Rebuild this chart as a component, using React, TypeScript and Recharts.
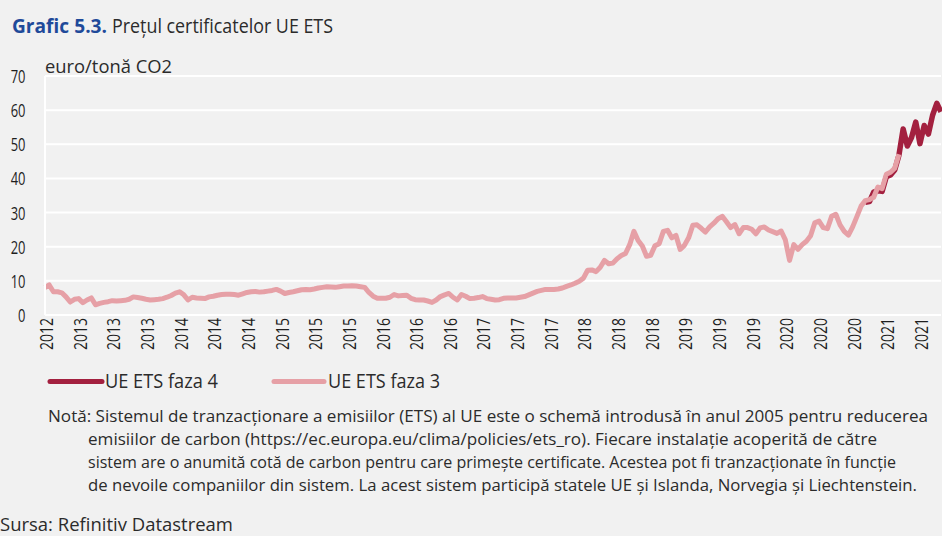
import React from 'react';
import { LineChart, Line, XAxis, YAxis, CartesianGrid } from 'recharts';

// x axis: one point every half month, a label every 8 points
const TICK_LABELS = [
  '2012', '2013', '2013', '2013', '2014', '2014', '2014', '2015', '2015', '2015',
  '2016', '2016', '2016', '2017', '2017', '2017', '2018', '2018', '2018',
  '2019', '2019', '2019', '2020', '2020', '2020', '2021', '2021',
];
const TICK_STEP = 8;
const Y_TICKS = [0, 10, 20, 30, 40, 50, 60, 70];

// UE ETS faza 3 (euro/tonă CO2)
const PHASE3 = [
  8.0, 8.8, 6.8, 6.8, 6.5, 5.3, 3.8, 4.6,
  4.8, 3.6, 4.4, 5.0, 3.0, 3.4, 3.7, 3.9,
  4.2, 4.1, 4.2, 4.3, 4.6, 5.3, 5.1, 4.9,
  4.6, 4.4, 4.5, 4.6, 4.8, 5.2, 5.7, 6.4,
  6.8, 5.9, 4.4, 5.2, 5.0, 4.9, 4.8, 5.3,
  5.5, 5.8, 6.0, 6.1, 6.1, 6.0, 5.8, 6.2,
  6.6, 6.8, 6.9, 6.7, 6.8, 7.0, 7.2, 7.5,
  7.0, 6.3, 6.6, 6.8, 7.1, 7.4, 7.5, 7.4,
  7.6, 7.9, 8.1, 8.3, 8.2, 8.1, 8.3, 8.5,
  8.5, 8.6, 8.5, 8.3, 8.1, 6.6, 5.5, 4.9,
  4.9, 4.9, 5.2, 6.0, 5.6, 5.7, 5.8, 4.9,
  4.5, 4.4, 4.4, 4.1, 3.7, 4.4, 5.4, 5.9,
  6.3, 5.2, 4.4, 6.0, 5.5, 4.8, 4.9, 5.1,
  5.4, 4.8, 4.6, 4.4, 4.5, 4.9, 5.0, 5.0,
  5.0, 5.2, 5.4, 5.9, 6.4, 6.9, 7.2, 7.5,
  7.5, 7.5, 7.6, 7.9, 8.4, 8.8, 9.3, 9.9,
  10.8, 13.1, 13.2, 12.7, 14.0, 16.0, 15.0, 15.2,
  16.5, 17.4, 18.0, 20.6, 24.5, 21.8, 20.2, 17.2,
  17.5, 20.3, 20.9, 24.5, 24.8, 22.6, 23.3, 19.2,
  20.4, 22.6, 26.3, 26.4, 25.4, 24.3, 25.8, 26.9,
  28.2, 28.9, 27.3, 25.6, 26.5, 23.8, 25.6, 25.6,
  25.1, 23.8, 25.5, 25.8, 24.9, 24.4, 23.9, 24.6,
  22.0, 16.0, 20.6, 19.2, 20.6, 21.6, 23.2, 27.0,
  27.5, 25.6, 25.3, 28.9, 29.5, 26.4, 24.5, 23.4,
  25.8, 28.8, 31.9, 33.5, 33.8, 34.5, 37.5, 37.0,
  41.2, 41.8, 43.0, 47.1,
];

// UE ETS faza 4, starts at point 195
const PHASE4_START = 195;
const PHASE4 = [
  33.0, 33.2, 36.0, 36.4, 36.2, 40.5, 41.0, 42.5, 46.8,
  54.5, 49.5, 52.0, 56.5, 50.2, 55.5, 53.0, 58.5, 62.0, 59.5,
];

const NOTE_LINES = [
  'Notă: Sistemul de tranzacționare a emisiilor (ETS) al UE este o schemă introdusă în anul 2005 pentru reducerea',
  'emisiilor de carbon (https://ec.europa.eu/clima/policies/ets_ro). Fiecare instalație acoperită de către',
  'sistem are o anumită cotă de carbon pentru care primește certificate. Acestea pot fi tranzacționate în funcție',
  'de nevoile companiilor din sistem. La acest sistem participă statele UE și Islanda, Norvegia și Liechtenstein.',
];

const LAST = PHASE4_START + PHASE4.length - 1;
const data = Array.from({ length: LAST + 1 }, (_, i) => ({
  i,
  f3: i < PHASE3.length ? PHASE3[i] : null,
  f4: i >= PHASE4_START ? PHASE4[i - PHASE4_START] : null,
}));
const xTicks = TICK_LABELS.map((_, k) => k * TICK_STEP);

const LIGHT = '#e6a0a6';
const DARK = '#a3203f';
const FONT = '"Open Sans", "Noto Sans", sans-serif';
const INK = '#2b2b2b';

const YTick = ({ y, payload }: any) => {
  const s = String(payload.value);
  return (
    <text x={25.5} y={y} textAnchor="end" dominantBaseline="central" fontSize={19} fill="#1e1e1e"
      fontFamily={FONT} textLength={s.length * 7.4} lengthAdjust="spacingAndGlyphs">
      {s}
    </text>
  );
};

const XTick = ({ x, payload }: any) => (
  <text
    transform={`translate(${x + 1},318) rotate(-90)`}
    textAnchor="end"
    dominantBaseline="central"
    fontSize={19}
    fill="#1e1e1e"
    fontFamily={FONT}
    textLength={32}
    lengthAdjust="spacingAndGlyphs"
  >
    {TICK_LABELS[payload.value / TICK_STEP]}
  </text>
);

// fixed-width text helper (the source uses a condensed face)
const T = ({ x, y, w, size, children, fill = INK, weight = 400 }: any) => (
  <text x={x} y={y} fontSize={size} fill={fill} fontWeight={weight} fontFamily={FONT}
    textLength={w} lengthAdjust="spacingAndGlyphs">
    {children}
  </text>
);

export default function App() {
  return (
    <div style={{ position: 'absolute', left: 0, top: 0, width: 942, height: 536, background: '#f1f1f1', overflow: 'hidden' }}>
      <div style={{ position: 'absolute', left: 0, top: 0 }}>
        <LineChart width={942} height={370} data={data} margin={{ top: 76, right: 1, bottom: 0, left: 0 }}>
          <CartesianGrid vertical={false} stroke="#ffffff" strokeWidth={2} />
          <XAxis
            dataKey="i"
            type="number"
            domain={[0, LAST]}
            ticks={xTicks}
            interval={0}
            height={55}
            axisLine={{ stroke: '#ffffff', strokeWidth: 2 }}
            tickLine={false}
            tick={<XTick />}
          />
          <YAxis
            domain={[0, 70]}
            ticks={Y_TICKS}
            width={45}
            axisLine={{ stroke: '#ffffff', strokeWidth: 2 }}
            tickLine={false}
            tick={<YTick />}
          />
          <Line dataKey="f4" stroke={DARK} strokeWidth={5.5} dot={false} strokeLinejoin="round" isAnimationActive={false} />
          <Line dataKey="f3" stroke={LIGHT} strokeWidth={5} dot={false} strokeLinejoin="round" isAnimationActive={false} />
        </LineChart>
      </div>

      <svg width={942} height={536} style={{ position: 'absolute', left: 0, top: 0, pointerEvents: 'none' }}>
        {/* title */}
        <T x={12} y={33} w={95} size={20} fill="#1f4a9a" weight={700}>Grafic 5.3.</T>
        <T x={112} y={33} w={221} size={20}>Prețul certificatelor UE ETS</T>
        <T x={45} y={72.5} w={127} size={19}>euro/tonă CO2</T>

        {/* legend */}
        <line x1={50} y1={381.5} x2={102} y2={381.5} stroke={DARK} strokeWidth={5} strokeLinecap="round" />
        <T x={105} y={388} w={113} size={20}>UE ETS faza 4</T>
        <line x1={274} y1={381.5} x2={324} y2={381.5} stroke={LIGHT} strokeWidth={5} strokeLinecap="round" />
        <T x={328} y={388} w={112} size={20}>UE ETS faza 3</T>

        {/* note and source */}
        <T x={48} y={422} w={880} size={15.5}>{NOTE_LINES[0]}</T>
        <T x={88} y={445} w={789} size={15.5}>{NOTE_LINES[1]}</T>
        <T x={88} y={468} w={808} size={15.5}>{NOTE_LINES[2]}</T>
        <T x={88} y={491} w={829} size={15.5}>{NOTE_LINES[3]}</T>
        <T x={0} y={531} w={233} size={19}>Sursa: Refinitiv Datastream</T>
      </svg>
    </div>
  );
}
